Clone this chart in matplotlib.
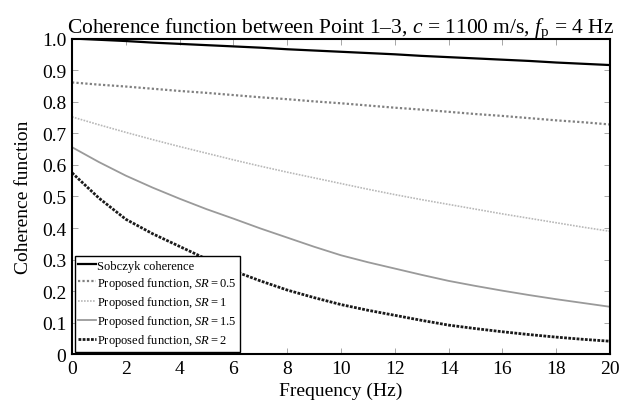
import matplotlib.pyplot as plt
from matplotlib.ticker import FixedLocator

plt.rcParams['font.family'] = ['Liberation Serif', 'DejaVu Serif']
plt.rcParams['mathtext.fontset'] = 'custom'
plt.rcParams['mathtext.rm'] = 'Liberation Serif'
plt.rcParams['mathtext.it'] = 'Liberation Serif:italic'

# frequency grid (Hz) and curves
freq = list(range(0, 21))
sobczyk = [1.000, 0.996, 0.992, 0.987, 0.983, 0.979, 0.975, 0.971, 0.966, 0.962, 0.958,
           0.954, 0.950, 0.945, 0.941, 0.937, 0.933, 0.929, 0.924, 0.920, 0.916]
sr_05 = [0.861, 0.854, 0.848, 0.841, 0.834, 0.828, 0.821, 0.814, 0.808, 0.801, 0.795,
         0.788, 0.781, 0.775, 0.768, 0.761, 0.755, 0.748, 0.741, 0.735, 0.728]
sr_1 = [0.752, 0.727, 0.703, 0.680, 0.658, 0.637, 0.616, 0.596, 0.577, 0.559, 0.541,
        0.523, 0.506, 0.490, 0.475, 0.460, 0.445, 0.431, 0.417, 0.403, 0.390]
sr_15 = [0.656, 0.609, 0.566, 0.528, 0.493, 0.460, 0.430, 0.399, 0.370, 0.341, 0.314,
         0.292, 0.272, 0.252, 0.233, 0.217, 0.202, 0.188, 0.175, 0.163, 0.151]
sr_2 = [0.575, 0.495, 0.428, 0.382, 0.342, 0.302, 0.265, 0.233, 0.204, 0.180, 0.158,
        0.140, 0.124, 0.108, 0.093, 0.082, 0.072, 0.063, 0.055, 0.048, 0.042]

x_ticks = [0, 2, 4, 6, 8, 10, 12, 14, 16, 18, 20]
y_ticks = [0, 0.1, 0.2, 0.3, 0.4, 0.5, 0.6, 0.7, 0.8, 0.9, 1.0]
y_labels = ['0', '0.1', '0.2', '0.3', '0.4', '0.5', '0.6', '0.7', '0.8', '0.9', '1.0']

fig = plt.figure(figsize=(6.23, 4.06), dpi=100)
ax = fig.add_axes([0.1156, 0.1244, 0.979 - 0.1156, 0.9027 - 0.1244])

ax.plot(freq, sobczyk, color='black', lw=1.6, label='Sobczyk coherence')
ax.plot(freq, sr_05, color='#808080', lw=1.6, linestyle=(0, (1, 1)),
        label=r'Proposed function, $\mathit{SR}=0.5$')
ax.plot(freq, sr_1, color='#b8b8b8', lw=1.2, linestyle=(0, (1, 0.8)),
        label=r'Proposed function, $\mathit{SR}=1$')
ax.plot(freq, sr_15, color='#9a9a9a', lw=1.3,
        label=r'Proposed function, $\mathit{SR}=1.5$')
ax.plot(freq, sr_2, color='#1a1a1a', lw=2.0, linestyle=(0, (1, 0.5)),
        label=r'Proposed function, $\mathit{SR}=2$')

ax.set_xlim(0, 20)
ax.set_ylim(0, 1.0)
ax.xaxis.set_major_locator(FixedLocator(x_ticks))
ax.set_xticklabels([str(t) for t in x_ticks])
ax.yaxis.set_major_locator(FixedLocator(y_ticks))
ax.set_yticklabels(y_labels)
ax.tick_params(direction='in', top=True, right=True, length=4, width=0.6,
               color='#999999', labelsize=14, pad=4)
for s in ax.spines.values():
    s.set_linewidth(1.5)

ax.set_title(r'Coherence function between Point 1–3, $c$ = 1100 m/s, $f_\mathrm{p}$ = 4 Hz',
             fontsize=15.5, pad=5)
ax.set_xlabel('Frequency (Hz)', fontsize=14, labelpad=3)
ax.set_ylabel('Coherence function', fontsize=14, labelpad=7)

leg = ax.legend(loc='lower left', fontsize=9, frameon=True, fancybox=False,
                edgecolor='black', framealpha=1, handlelength=1.4, handletextpad=0.1,
                labelspacing=0.25, borderpad=0.3, borderaxespad=0.2)
leg.get_frame().set_linewidth(1.0)

fig.savefig('out.png', dpi=100)
